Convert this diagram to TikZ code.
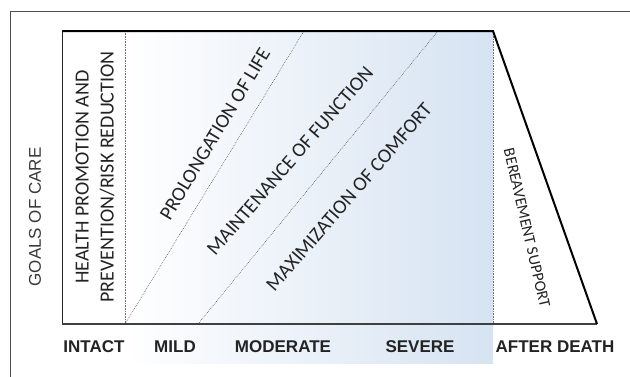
\documentclass[tikz,border=0pt]{standalone}
\usepackage{fontspec}
\setmainfont{Liberation Sans}
\newfontfamily\carl{Carlito}
\definecolor{blueR}{RGB}{214,227,242}
\definecolor{ink}{RGB}{35,35,35}
\begin{document}
\begin{tikzpicture}[x=1pt,y=-1pt,
  frame/.style={draw=black!70,line width=0.9pt},
  dotline/.style={draw=black!75,line width=0.5pt,dash pattern=on 0.7pt off 1.1pt},
  vdot/.style={draw=black!55,line width=0.6pt,dash pattern=on 0.7pt off 0.9pt},
  goal/.style={font=\carl\fontsize{20}{25}\selectfont,text=ink,inner sep=0pt},
  stage/.style={font=\bfseries\fontsize{17}{20}\selectfont,text=ink,inner sep=0pt},
  axis/.style={font=\fontsize{17}{20}\selectfont,text=ink!90,inner sep=0pt}]
\useasboundingbox (0,0) rectangle (630,376);
\fill[white] (0,0) rectangle (630,376);
\shade[left color=white,right color=blueR] (125,31) rectangle (493,363);
\draw[frame] (10,380) -- (10,11) -- (634,11);
\coordinate (TL) at (62,31);
\coordinate (TR) at (493,31);
\coordinate (BL) at (62,324);
\coordinate (BR) at (597,324);
\coordinate (V1t) at (125,31);
\coordinate (V1b) at (125,324);
\coordinate (V2b) at (493,324);
\coordinate (D1t) at (304,31);
\coordinate (D2b) at (198,324);
\coordinate (D2t) at (438,31);
\draw[vdot] (V1t) -- (V1b);
\draw[vdot] (TR) -- (V2b);
\draw[dotline] (V1b) -- (D1t);
\draw[dotline] (D2b) -- (D2t);
\draw[line width=1pt,black!85] (TL) -- (BL);
\draw[line width=1.1pt,black!75] (BL) -- (BR);
\draw[line width=2pt,black,line join=miter] (TL) -- (TR) -- (BR);
\node[axis,rotate=90] (goals) at (35,217) {GOALS OF CARE};
\node[goal,rotate=90,align=center] (health) at (95,177) {HEALTH PROMOTION AND\\PREVENTION/RISK REDUCTION};
\node[goal,rotate=59] (prolong) at (215,134) {PROLONGATION OF LIFE};
\node[goal,rotate=49] (maint) at (290,161) {MAINTENANCE OF FUNCTION};
\node[goal,rotate=49] (maxim) at (349,197) {MAXIMIZATION OF COMFORT};
\node[goal,rotate=-77,font=\carl\fontsize{16}{19}\selectfont] (bereave) at (527,228) {BEREAVEMENT SUPPORT};
\node[stage] (intact) at (94,347) {INTACT};
\node[stage] (mild) at (175,347) {MILD};
\node[stage] (moderate) at (283,347) {MODERATE};
\node[stage] (severe) at (420,347) {SEVERE};
\node[stage] (after) at (555,347) {AFTER DEATH};
\end{tikzpicture}
\end{document}
